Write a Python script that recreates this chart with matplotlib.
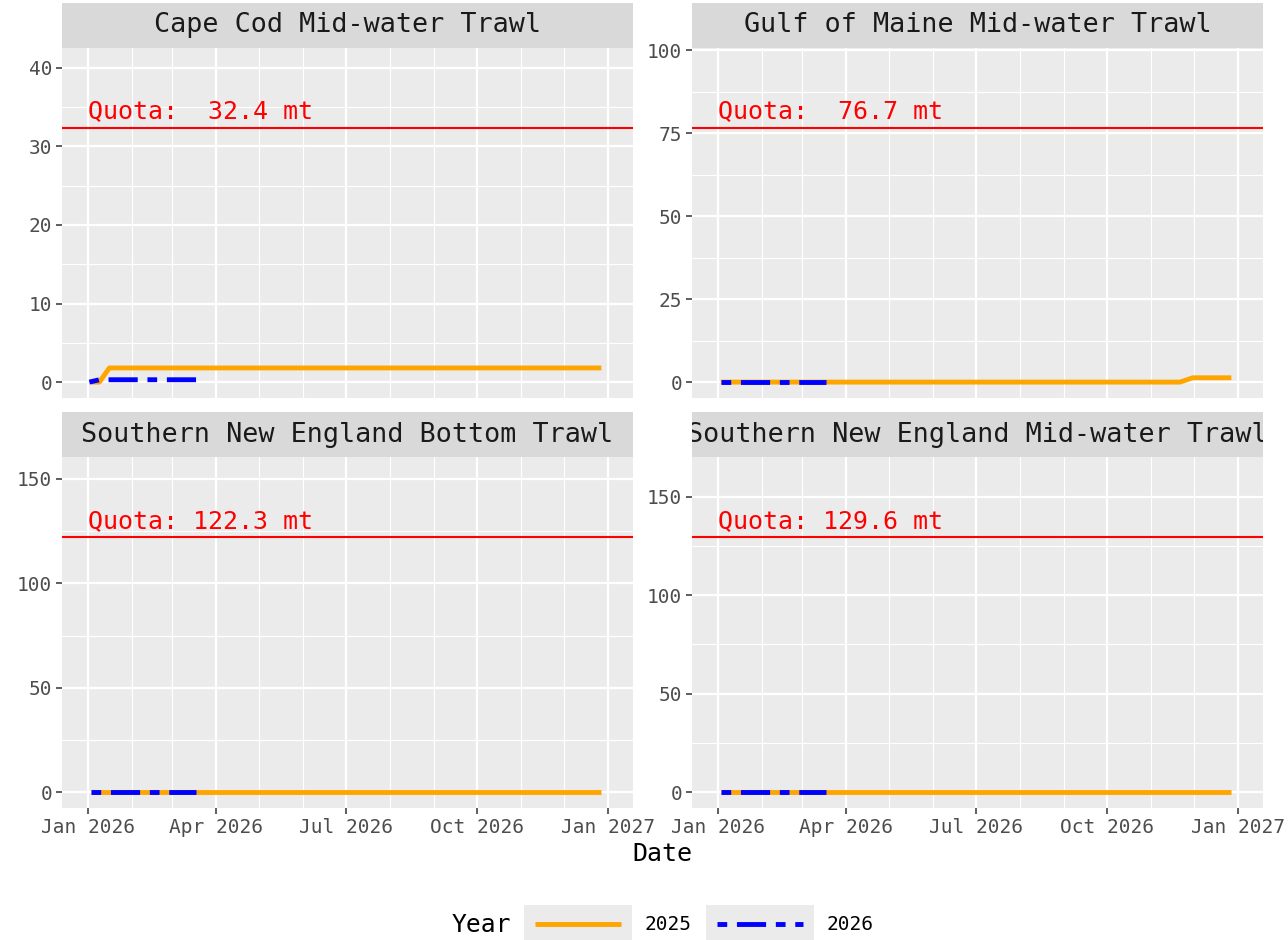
import matplotlib
matplotlib.use("Agg")
import matplotlib.pyplot as plt
import matplotlib.dates as mdates
from matplotlib.ticker import MultipleLocator
from matplotlib.patches import Rectangle
from matplotlib.lines import Line2D
import pandas as pd

plt.rcParams["font.family"] = ["DejaVu Sans Mono", "DejaVu Sans"]

# facets, quotas (mt) and y tick steps
panels = ["Cape Cod Mid-water Trawl", "Gulf of Maine Mid-water Trawl",
          "Southern New England Bottom Trawl", "Southern New England Mid-water Trawl"]
quotas = [32.4, 76.7, 122.3, 129.6]
y_steps = [10, 25, 50, 50]

# x scale covers the whole year
x_range = ["2026-01-01", "2026-12-31"]

# cumulative catch, day of year shown on a 2026 axis
dates_2025 = [
    ["2026-01-03", "2026-01-09", "2026-01-16", "2026-12-27"],
    ["2026-01-03", "2026-11-21", "2026-11-30", "2026-12-27"],
    ["2026-01-03", "2026-12-27"],
    ["2026-01-03", "2026-12-27"],
]
catch_2025 = [
    [0.0, 0.0, 1.8, 1.8],
    [0.0, 0.0, 1.3, 1.3],
    [0.0, 0.0],
    [0.0, 0.0],
]
dates_2026 = [
    ["2026-01-02", "2026-01-09", "2026-03-18"],
    ["2026-01-03", "2026-03-18"],
    ["2026-01-03", "2026-03-18"],
    ["2026-01-03", "2026-03-18"],
]
catch_2026 = [
    [0.0, 0.3, 0.3],
    [0.0, 0.0],
    [0.0, 0.0],
    [0.0, 0.0],
]
years = ["2025", "2026"]
year_colors = ["orange", "blue"]

W, H = 1288, 940
fig = plt.figure(figsize=(W / 100, H / 100), dpi=100)


def rect(x0, y0, x1, y1):
    return [x0 / W, 1 - y1 / H, (x1 - x0) / W, (y1 - y0) / H]


col_x = [(62, 633), (692, 1263)]
row_y = [(3, 48, 398), (412, 457, 808)]

dmin, dmax = pd.to_datetime(x_range[0]), pd.to_datetime(x_range[1])
pad = (dmax - dmin) * 0.05
xlim = (mdates.date2num(dmin - pad), mdates.date2num(dmax + pad))
twodash = (2, 2, 6, 2)

for i, name in enumerate(panels):
    r, c = divmod(i, 2)
    x0, x1 = col_x[c]
    s0, p0, p1 = row_y[r]

    # strip
    sax = fig.add_axes(rect(x0, s0, x1, p0))
    sax.set_facecolor("#D9D9D9")
    sax.set_xticks([]); sax.set_yticks([])
    for sp in sax.spines.values():
        sp.set_visible(False)
    sax.text(0.5, 0.5, name, ha="center", va="center", fontsize=19.3,
             color="#1A1A1A", transform=sax.transAxes, clip_on=True)

    ax = fig.add_axes(rect(x0, p0, x1, p1))
    ax.set_facecolor("#EBEBEB")
    for sp in ax.spines.values():
        sp.set_visible(False)

    q = quotas[i]
    top = q * 1.25
    ax.set_ylim(-0.05 * top, 1.05 * top)
    ax.set_xlim(*xlim)
    ax.yaxis.set_major_locator(MultipleLocator(y_steps[i]))
    ax.yaxis.set_minor_locator(MultipleLocator(y_steps[i] / 2))
    ax.xaxis.set_major_locator(mdates.MonthLocator(bymonth=[1, 4, 7, 10]))
    ax.xaxis.set_minor_locator(mdates.MonthLocator())
    ax.xaxis.set_major_formatter(mdates.DateFormatter("%b %Y"))
    ax.grid(which="major", color="white", lw=1.6)
    ax.grid(which="minor", color="white", lw=0.8)
    ax.set_axisbelow(True)
    ax.tick_params(which="major", length=4, width=1.1, color="#333333",
                   labelcolor="#4D4D4D", labelsize=14, pad=3)
    ax.tick_params(which="minor", length=0)
    if r == 0:
        ax.tick_params(axis="x", which="both", length=0, labelbottom=False)

    ax.axhline(q, color="red", lw=1.5, zorder=2)
    ax.annotate(f"Quota: {q:5.1f} mt", xy=(mdates.datestr2num("2026-01-01"), q),
                xytext=(0, 6.5), textcoords="offset points", ha="left",
                va="baseline", color="red", fontsize=18, zorder=3)

    ax.plot(pd.to_datetime(dates_2025[i]), catch_2025[i], color=year_colors[0],
            lw=3.5, solid_capstyle="butt", zorder=4)
    ax.plot(pd.to_datetime(dates_2026[i]), catch_2026[i], color=year_colors[1],
            lw=3.5, dashes=twodash, dash_capstyle="butt", zorder=5)

fig.text(662 / W, 1 - 854 / H, "Date", ha="center", va="center", fontsize=18, color="black")

# legend drawn in pixel space
lax = fig.add_axes([0, 0, 1, 1], zorder=-1)
lax.set_xlim(0, W); lax.set_ylim(H, 0)
lax.axis("off")
lax.text(452, 925, "Year", ha="left", va="center", fontsize=17.7, color="black")
key_x = [524, 706]
for k, (yr, col) in enumerate(zip(years, year_colors)):
    kx = key_x[k]
    lax.add_patch(Rectangle((kx, 905), 108, 40, facecolor="#EBEBEB", edgecolor="none"))
    ln = Line2D([kx + 11, kx + 97], [924, 924], color=col, lw=3.5,
                solid_capstyle="butt", dash_capstyle="butt")
    if k == 1:
        ln.set_dashes(twodash)
    lax.add_line(ln)
    lax.text(kx + 121, 925, yr, ha="left", va="center", fontsize=14, color="black")

fig.savefig("out.png", dpi=100)
